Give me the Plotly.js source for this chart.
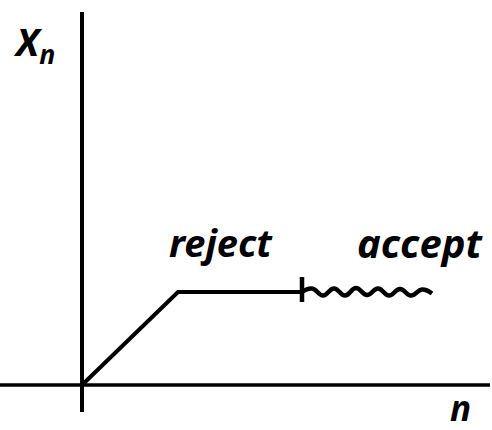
<!DOCTYPE html>
<html>
<head>
<meta charset="utf-8">
<script src="https://cdn.plot.ly/plotly-3.0.1.min.js"></script>
<style>
  html, body { margin: 0; padding: 0; background: #fff; }
  #chart { width: 492px; height: 430px; }
</style>
</head>
<body>
<div id="chart"></div>
<script>
// Path of x_n: rises from the origin, then stays flat while proposals are rejected
const pathN = [0, 9.6, 22.0];
const pathX = [0, 9.3, 9.3];

// Accepted stretch: a wiggly run after the tick mark
const wiggleN = [22.0, 23.0, 24.1, 25.2, 26.3, 27.4, 28.5, 29.6, 30.7, 31.8, 32.9, 34.0, 35.0];
const wiggleX = [9.3, 9.65, 8.95, 9.65, 8.95, 9.7, 9.0, 9.65, 8.95, 9.6, 8.95, 9.55, 9.15];

// Tick separating the rejected and accepted stretches
const tickN = [22.0, 22.0];
const tickX = [10.8, 8.3];

// Axes drawn as lines crossing at the origin
const vAxisN = [0, 0];
const vAxisX = [-2.7, 37.3];
const hAxisN = [-8.2, 40.8];
const hAxisX = [0, 0];

const ink = '#000';
const hand = 'Noto Sans, DejaVu Sans, sans-serif';

const traces = [
  { x: vAxisN, y: vAxisX, mode: 'lines', line: { color: ink, width: 4 }, hoverinfo: 'skip' },
  { x: hAxisN, y: hAxisX, mode: 'lines', line: { color: ink, width: 3.5 }, hoverinfo: 'skip' },
  { x: pathN, y: pathX, mode: 'lines', line: { color: ink, width: 4 }, hoverinfo: 'skip' },
  { x: tickN, y: tickX, mode: 'lines', line: { color: ink, width: 4.5 }, hoverinfo: 'skip' },
  { x: wiggleN, y: wiggleX, mode: 'lines', line: { color: ink, width: 4.5, shape: 'spline', smoothing: 1.3 }, hoverinfo: 'skip' }
];

const layout = {
  width: 492,
  height: 430,
  margin: { l: 0, r: 0, t: 0, b: 0 },
  paper_bgcolor: '#fff',
  plot_bgcolor: '#fff',
  showlegend: false,
  xaxis: { range: [-8.2, 41.0], visible: false, fixedrange: true },
  yaxis: { range: [-4.5, 38.5], visible: false, fixedrange: true },
  annotations: [
    { x: -4.8, y: 34.2, text: 'X<sub>n</sub>', showarrow: false, xanchor: 'center', yanchor: 'middle',
      font: { family: hand, size: 38, color: ink, style: 'italic', weight: 'bold' } },
    { x: 13.9, y: 14.3, text: 'reject', showarrow: false, xanchor: 'center', yanchor: 'middle',
      font: { family: hand, size: 38, color: ink, style: 'italic', weight: 'bold' } },
    { x: 33.8, y: 14.3, text: 'accept', showarrow: false, xanchor: 'center', yanchor: 'middle',
      font: { family: hand, size: 40, color: ink, style: 'italic', weight: 'bold' } },
    { x: 37.8, y: -2.2, text: 'n', showarrow: false, xanchor: 'center', yanchor: 'middle',
      font: { family: hand, size: 35, color: ink, style: 'italic', weight: 'bold' } }
  ]
};

Plotly.newPlot('chart', traces, layout, { staticPlot: true, displayModeBar: false });
</script>
</body>
</html>
